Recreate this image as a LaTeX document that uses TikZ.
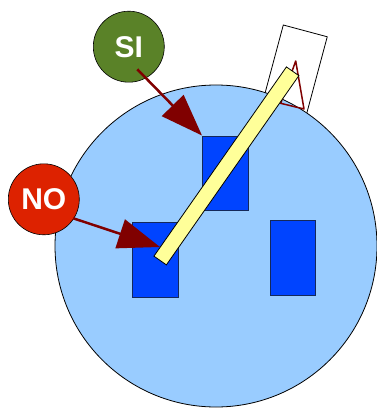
\documentclass[tikz,border=0pt]{standalone}
\usepackage{fontspec}
\setsansfont{Liberation Sans}
\usepackage{tikz}
\usetikzlibrary{arrows.meta,positioning}

\definecolor{skyfill}{RGB}{153,204,255}
\definecolor{keyblue}{RGB}{0,68,255}
\definecolor{keyedge}{RGB}{20,40,90}
\definecolor{pinyellow}{RGB}{255,255,153}
\definecolor{sigreen}{RGB}{90,130,40}
\definecolor{nored}{RGB}{221,34,0}
\definecolor{pointer}{RGB}{128,0,0}

\tikzset{
  keybox/.style={fill=keyblue, draw=keyedge, line width=1pt},
  answer/.style={circle, draw=black, line width=0.6pt, minimum size=71pt, inner sep=0pt,
    text=white, font=\sffamily\bfseries\fontsize{30}{36}\selectfont},
  pointarrow/.style={draw=pointer, line width=2.5pt, -{Triangle[length=42pt,width=30pt]}}
}

\begin{document}
\begin{tikzpicture}[x=1pt,y=-1pt]
  \useasboundingbox (0,0) rectangle (376,409);
  % white card behind the wheel
  \begin{scope}[shift={(283.3,25)}, rotate=-15]
    \draw[fill=white, line width=0.8pt] (0,0) rectangle (45.5,100);
  \end{scope}
  % wheel
  \draw[fill=skyfill, line width=0.8pt] (216,246) circle (161);
  % keys
  \draw[keybox] (202,136) rectangle (248,210);
  \draw[keybox] (132,222) rectangle (178,297);
  \draw[keybox] (270,220) rectangle (315,295);
  % marker
  \draw[pointer, line width=1.5pt, line join=round] (295.7,61) -- (304,109) -- (280.7,103.3) -- cycle;
  % needle
  \begin{scope}[shift={(226.4,165.9)}, rotate=55]
    \draw[fill=pinyellow, line width=0.8pt] (-115.5,-7.6) rectangle (115.5,7.6);
  \end{scope}
  % labels
  \node[answer, fill=sigreen] (si) at (128.8,46.7) {SI};
  \node[answer, fill=nored] (no) at (43.8,199.3) {NO};
  \coordinate (sitail) at (137.3,69.3);
  \coordinate (sitip) at (202,135.5);
  \coordinate (notail) at (73.3,218.3);
  \coordinate (notip) at (160,247);
  \draw[pointarrow] (sitail) -- (sitip);
  \draw[pointarrow] (notail) -- (notip);
\end{tikzpicture}
\end{document}
